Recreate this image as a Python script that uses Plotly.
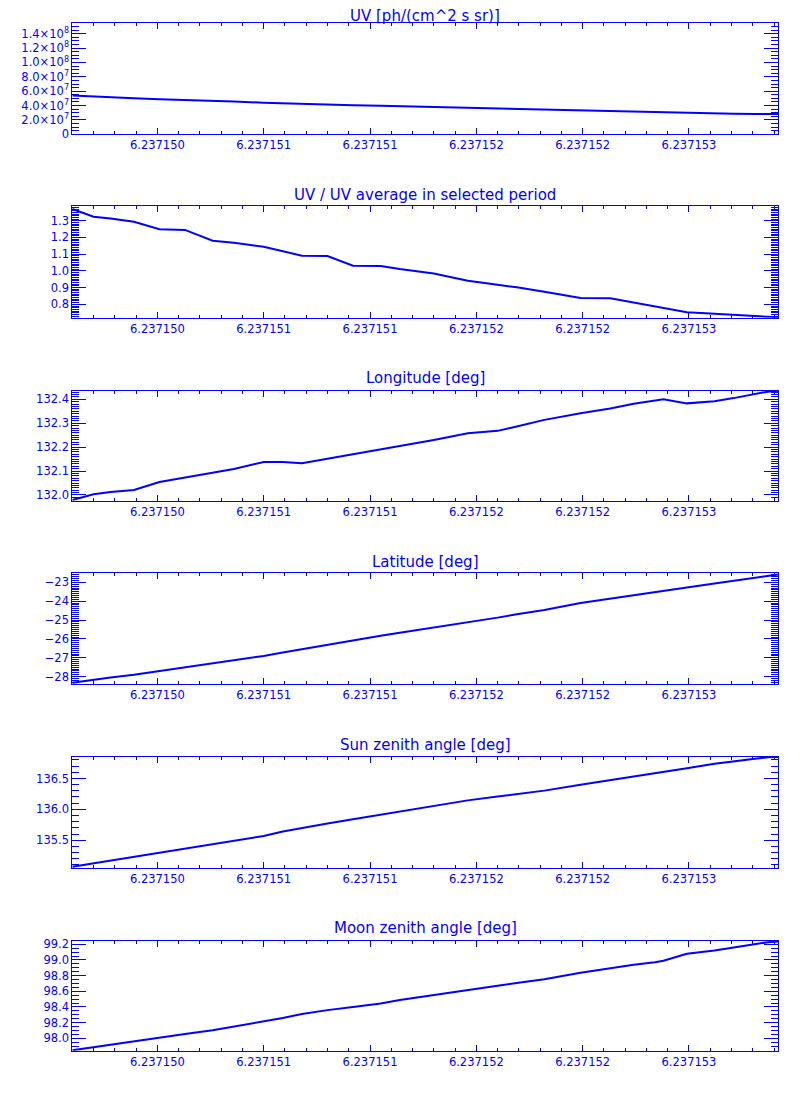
import plotly.graph_objects as go

# ---- data ----
time = [6.23714960, 6.23714970, 6.23714978, 6.23714989, 6.23715001, 6.23715013,
        6.23715026, 6.23715036, 6.23715050, 6.23715059, 6.23715068, 6.23715080,
        6.23715092, 6.23715105, 6.23715114, 6.23715130, 6.23715146, 6.23715160,
        6.23715169, 6.23715182, 6.23715199, 6.23715213, 6.23715224, 6.23715234,
        6.23715238, 6.23715249, 6.23715262, 6.23715271, 6.23715281, 6.23715287,
        6.23715292]

uv = [5.40e7, 5.24e7, 5.15e7, 5.01e7, 4.88e7, 4.80e7, 4.68e7, 4.55e7, 4.40e7, 4.31e7,
      4.23e7, 4.12e7, 4.04e7, 3.96e7, 3.90e7, 3.83e7, 3.72e7, 3.60e7, 3.55e7, 3.46e7,
      3.33e7, 3.25e7, 3.17e7, 3.04e7, 3.01e7, 2.95e7, 2.89e7, 2.86e7, 2.84e7, 2.82e7,
      2.81e7]

uv_ratio = [1.370, 1.324, 1.314, 1.294, 1.249, 1.245, 1.180, 1.169, 1.144, 1.118,
            1.091, 1.089, 1.031, 1.029, 1.011, 0.985, 0.941, 0.917, 0.902, 0.875,
            0.838, 0.836, 0.810, 0.786, 0.776, 0.752, 0.744, 0.736, 0.728, 0.726,
            0.722]

longitude = [131.979, 132.003, 132.012, 132.021, 132.054, 132.073, 132.092, 132.109,
             132.138, 132.138, 132.133, 132.152, 132.170, 132.190, 132.203, 132.230,
             132.258, 132.268, 132.286, 132.314, 132.342, 132.362, 132.381, 132.394,
             132.400, 132.383, 132.392, 132.405, 132.420, 132.432, 132.436]

latitude = [-28.32, -28.15, -28.05, -27.90, -27.71, -27.52, -27.31, -27.13, -26.90,
            -26.72, -26.54, -26.31, -26.07, -25.83, -25.67, -25.40, -25.13, -24.87,
            -24.69, -24.46, -24.10, -23.86, -23.68, -23.53, -23.45, -23.27, -23.06,
            -22.91, -22.76, -22.66, -22.58]

sun_zenith = [135.070, 135.125, 135.170, 135.232, 135.305, 135.370, 135.445, 135.500,
              135.567, 135.640, 135.700, 135.770, 135.840, 135.915, 135.965, 136.055,
              136.145, 136.207, 136.245, 136.303, 136.400, 136.472, 136.528, 136.576,
              136.600, 136.665, 136.737, 136.780, 136.820, 136.843, 136.850]

moon_zenith = [97.847, 97.887, 97.920, 97.963, 98.013, 98.055, 98.103, 98.150, 98.208,
               98.260, 98.310, 98.360, 98.400, 98.445, 98.489, 98.555, 98.615, 98.670,
               98.705, 98.755, 98.838, 98.895, 98.940, 98.970, 98.990, 99.080, 99.120,
               99.160, 99.200, 99.226, 99.235]

x_tick_vals = [6.2371500, 6.2371505, 6.2371510, 6.2371515, 6.2371520, 6.2371525]
x_tick_text = ["6.237150", "6.237151", "6.237151", "6.237152", "6.237152", "6.237153"]

uv_tick_vals = [0, 2e7, 4e7, 6e7, 8e7, 1e8, 1.2e8, 1.4e8]
uv_tick_text = ["0", "2.0×10<sup>7</sup>", "4.0×10<sup>7</sup>", "6.0×10<sup>7</sup>",
                "8.0×10<sup>7</sup>", "1.0×10<sup>8</sup>", "1.2×10<sup>8</sup>",
                "1.4×10<sup>8</sup>"]

titles = ["UV [ph/(cm^2 s sr)]", "UV / UV average in selected period",
          "Longitude [deg]", "Latitude [deg]", "Sun zenith angle [deg]",
          "Moon zenith angle [deg]"]

series = [uv, uv_ratio, longitude, latitude, sun_zenith, moon_zenith]

# ---- styling / layout ----
OFF = 8                      # default body margin of the html page
W, H = 800 - 2 * OFF, 1100 - 2 * OFF
BLUE = "#0000ff"
FONT = "DejaVu Sans"
x_range = [6.2371496, 6.23715292]
x_dom = [(72.3 - OFF) / W, (778.3 - OFF) / W]
# (top, bottom) pixel edges of each panel in the page, title centre y
panel_px = [(23.3, 134.3), (205.7, 317.7), (390.7, 500.7),
            (573.3, 684.0), (756.7, 868.3), (940.7, 1050.7)]
title_px = [15.5, 195, 378, 562, 745, 928]
y_ranges = [[0, 1.545e8], [0.720, 1.390], [131.976, 132.436],
            [-28.39, -22.52], [135.044, 136.853], [97.842, 99.246]]
y_major = [None, 0.1, 0.1, 1.0, 0.5, 0.2]
y_minor = [5e6, 0.01, 0.01, 0.1, 0.1, 0.05]
y_fmt = [None, ".1f", ".1f", "d", ".1f", ".1f"]

fig = go.Figure()
layout = dict(width=W, height=H, margin=dict(l=0, r=0, t=0, b=0, pad=0, autoexpand=False),
              paper_bgcolor="white", plot_bgcolor="white", showlegend=False,
              annotations=[])

for i, ys in enumerate(series):
    n = i + 1
    xa = "x" if n == 1 else f"x{n}"
    ya = "y" if n == 1 else f"y{n}"
    fig.add_trace(go.Scatter(x=time, y=ys, mode="lines", xaxis=xa, yaxis=ya,
                             line=dict(color=BLUE, width=2), hoverinfo="skip"))
    top, bot = panel_px[i]
    layout[f"xaxis{'' if n == 1 else n}"] = dict(
        domain=x_dom, anchor=ya, range=x_range, automargin=False,
        tickmode="array", tickvals=x_tick_vals, ticktext=x_tick_text,
        ticks="inside", ticklen=6, tickwidth=1, tickcolor=BLUE,
        showline=True, linecolor=BLUE, linewidth=1, mirror="allticks",
        showgrid=False, zeroline=False,
        tickfont=dict(family=FONT, size=11.5, color=BLUE),
        minor=dict(tickmode="linear", tick0=6.23715, dtick=1e-7, ticks="inside",
                   ticklen=3, tickwidth=1, tickcolor=BLUE, showgrid=False))
    yax = dict(
        domain=[1 - (bot - OFF) / H, 1 - (top - OFF) / H], anchor=xa, range=y_ranges[i],
        automargin=False,
        ticks="inside", ticklen=14, tickwidth=1, tickcolor=BLUE,
        showline=True, linecolor=BLUE, linewidth=1, mirror="allticks",
        showgrid=False, zeroline=False,
        tickfont=dict(family=FONT, size=11.5, color=BLUE),
        minor=dict(tickmode="linear", tick0=0, dtick=y_minor[i], ticks="inside",
                   ticklen=7, tickwidth=1, tickcolor=BLUE, showgrid=False))
    if i == 0:
        yax.update(tickmode="array", tickvals=uv_tick_vals, ticktext=uv_tick_text)
    else:
        yax.update(tickmode="linear", tick0=0, dtick=y_major[i], tickformat=y_fmt[i])
    layout[f"yaxis{'' if n == 1 else n}"] = yax
    layout["annotations"].append(dict(
        text=titles[i], xref="paper", yref="paper", x=(425 - OFF) / W,
        y=1 - (title_px[i] - OFF) / H,
        xanchor="center", yanchor="middle", showarrow=False,
        font=dict(family=FONT, size=15, color=BLUE)))

fig.update_layout(**layout)
fig.write_html("out.html")
